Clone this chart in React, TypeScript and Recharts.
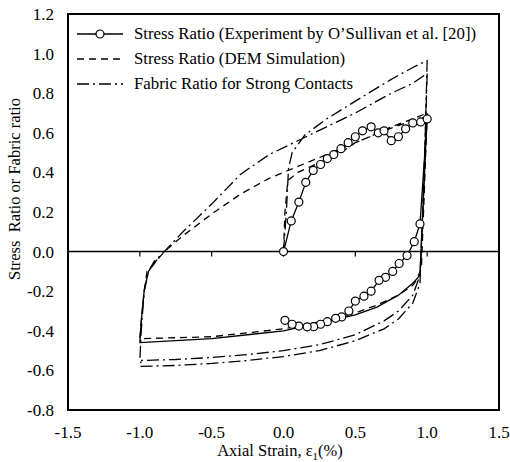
import {
  LineChart,
  Line,
  XAxis,
  YAxis,
  ReferenceLine,
  ReferenceArea,
  Legend,
} from "recharts";

const SERIF = "'Liberation Serif', 'Times New Roman', serif";

const xTicks = [-1.5, -1.0, -0.5, 0.0, 0.5, 1.0, 1.5];
const yTicks = [-0.8, -0.6, -0.4, -0.2, 0.0, 0.2, 0.4, 0.6, 0.8, 1.0, 1.2];

// experiment (O'Sullivan et al.), loading 0 -> 1 then unloading back to 0
const expStrain = [
  0, 0.054, 0.107, 0.155, 0.207, 0.258, 0.305, 0.35, 0.4, 0.45, 0.5, 0.55, 0.61,
  0.66, 0.7, 0.75, 0.8, 0.85, 0.9, 0.955, 1.0, 0.95, 0.91, 0.86, 0.805, 0.76,
  0.71, 0.665, 0.61, 0.56, 0.5, 0.455, 0.405, 0.363, 0.305, 0.258, 0.21, 0.165,
  0.107, 0.06, 0.01,
];
const expRatio = [
  0, 0.155, 0.25, 0.35, 0.41, 0.44, 0.47, 0.49, 0.52, 0.55, 0.58, 0.61, 0.63,
  0.6, 0.61, 0.56, 0.58, 0.62, 0.65, 0.655, 0.67, 0.14, 0.05, -0.02, -0.06,
  -0.1, -0.13, -0.145, -0.2, -0.225, -0.25, -0.3, -0.33, -0.337, -0.354,
  -0.367, -0.379, -0.38, -0.376, -0.367, -0.347,
];

// DEM stress ratio, first cycle
const demStrain = [
  0, 0.01, 0.03, 0.1, 0.25, 0.4, 0.5, 0.6, 0.75, 0.9, 1.0, 0.98, 0.96, 0.93,
  0.9, 0.8, 0.65, 0.5, 0.25, 0, -0.25, -0.5, -0.75, -1.0, -0.99, -0.97, -0.95,
  -0.9, -0.83, -0.7, -0.5, -0.3, -0.1, 0.1, 0.3, 0.5, 0.7, 0.85, 1.0,
];
const demRatio = [
  0, 0.2, 0.36, 0.4, 0.45, 0.5, 0.55, 0.58, 0.63, 0.67, 0.7, 0.3, -0.08, -0.14,
  -0.17, -0.22, -0.27, -0.31, -0.355, -0.39, -0.41, -0.43, -0.435, -0.44,
  -0.35, -0.2, -0.1, -0.06, 0.0, 0.08, 0.19, 0.29, 0.37, 0.43, 0.49, 0.55,
  0.61, 0.65, 0.68,
];

// DEM stress ratio, second unloading
const dem2Strain = [
  1.0, 0.97, 0.95, 0.9, 0.8, 0.65, 0.5, 0.25, 0, -0.25, -0.5, -0.75, -1.0,
  -0.99, -0.97, -0.94, -0.88,
];
const dem2Ratio = [
  0.7, 0.2, -0.12, -0.16, -0.22, -0.28, -0.32, -0.36, -0.4, -0.42, -0.44,
  -0.45, -0.46, -0.35, -0.2, -0.1, -0.04,
];

// fabric ratio for strong contacts
const fabStrain = [
  0, 0.02, 0.035, 0.06, 0.15, 0.3, 0.5, 0.75, 0.9, 1.0, 0.98, 0.95, 0.9, 0.8,
  0.7, 0.5, 0.25, 0, -0.25, -0.5, -0.75, -1.0, -0.99, -0.97, -0.94, -0.9,
  -0.83, -0.7, -0.5, -0.3, -0.1, 0.1, 0.3, 0.5, 0.75, 0.9, 1.0,
];
const fabRatio = [
  0, 0.2, 0.42, 0.5, 0.59, 0.67, 0.76, 0.87, 0.93, 0.965, 0.4, -0.12, -0.22,
  -0.3, -0.35, -0.42, -0.47, -0.5, -0.52, -0.535, -0.545, -0.55, -0.4, -0.2,
  -0.1, -0.05, 0.0, 0.1, 0.24, 0.39, 0.49, 0.56, 0.63, 0.7, 0.8, 0.85, 0.9,
];

const fab2Strain = [
  1.0, 0.97, 0.95, 0.9, 0.8, 0.7, 0.5, 0.25, 0, -0.25, -0.5, -0.75, -1.0, -0.99,
];
const fab2Ratio = [
  0.9, 0.2, -0.16, -0.26, -0.34, -0.39, -0.45, -0.5, -0.53, -0.55, -0.565,
  -0.575, -0.58, -0.55,
];

const legendItems = [
  { label: "Stress Ratio (Experiment by O\u2019Sullivan et al. [20])", dash: undefined, marker: true },
  { label: "Stress Ratio (DEM Simulation)", dash: "7 5", marker: false },
  { label: "Fabric Ratio for Strong Contacts", dash: "12 4 2 4", marker: false },
];

const toPoints = (xs: number[], ys: number[]) => xs.map((x, i) => ({ x, y: ys[i] }));

function LegendBox() {
  return (
    <div style={{ fontFamily: SERIF, fontSize: 16.8, color: "#000" }}>
      {legendItems.map((item) => (
        <div key={item.label} style={{ display: "flex", alignItems: "center", height: 25 }}>
          <svg width={46} height={12}>
            <line x1={0} y1={6} x2={46} y2={6} stroke="#000" strokeWidth={1.3} strokeDasharray={item.dash} />
            {item.marker && <circle cx={23} cy={6} r={4} fill="#fff" stroke="#000" strokeWidth={1.2} />}
          </svg>
          <span style={{ marginLeft: 11, whiteSpace: "nowrap" }}>{item.label}</span>
        </div>
      ))}
    </div>
  );
}

export default function App() {
  const tickStyle = { fontFamily: SERIF, fontSize: 17, fill: "#000" };
  return (
    <div style={{ position: "absolute", left: 0, top: 0, background: "#fff" }}>
      <LineChart width={510} height={462} margin={{ top: 14, right: 11, left: 0, bottom: 0 }}>
        <XAxis
          dataKey="x"
          type="number"
          domain={[-1.5, 1.5]}
          ticks={xTicks}
          tickFormatter={(v: number) => v.toFixed(1)}
          tick={tickStyle}
          tickLine={false}
          axisLine={false}
          tickSize={8}
          tickMargin={8}
          height={52}
          allowDataOverflow
          label={{
            content: () => (
              <text x={280} y={456} textAnchor="middle" fontFamily={SERIF} fontSize={16.5} fill="#000">
                Axial Strain, ε
                <tspan fontSize={11} dy={4}>1</tspan>
                <tspan dy={-4}>(%)</tspan>
              </text>
            ),
          }}
        />
        <YAxis
          type="number"
          domain={[-0.8, 1.2]}
          ticks={yTicks}
          tickFormatter={(v: number) => v.toFixed(1)}
          tick={tickStyle}
          tickLine={false}
          axisLine={false}
          tickSize={6}
          tickMargin={8}
          width={68}
          allowDataOverflow
          label={{
            content: () => (
              <text
                x={20}
                y={189}
                textAnchor="middle"
                fontFamily={SERIF}
                fontSize={16.5}
                fill="#000"
                transform="rotate(-90 20 189)"
                style={{ whiteSpace: "pre" }}
              >
                {"Stress  Ratio or Fabric ratio"}
              </text>
            ),
          }}
        />
        <ReferenceArea x1={-1.5} x2={1.5} y1={-0.8} y2={1.2} fill="none" stroke="#000" strokeWidth={2} />
        <ReferenceLine y={0} stroke="#000" strokeWidth={1.5} />
        {xTicks.slice(1, -1).map((t) => (
          <ReferenceLine
            key={`zt-${t}`}
            segment={[
              { x: t, y: 0 },
              { x: t, y: -0.025 },
            ]}
            stroke="#000"
            strokeWidth={1.2}
          />
        ))}
        <Line
          data={toPoints(fabStrain, fabRatio)}
          dataKey="y"
          stroke="#000"
          strokeWidth={1.3}
          strokeDasharray="12 4 2 4"
          dot={false}
          activeDot={false}
          isAnimationActive={false}
          legendType="none"
        />
        <Line
          data={toPoints(fab2Strain, fab2Ratio)}
          dataKey="y"
          stroke="#000"
          strokeWidth={1.3}
          strokeDasharray="12 4 2 4"
          dot={false}
          activeDot={false}
          isAnimationActive={false}
          legendType="none"
        />
        <Line
          data={toPoints(demStrain, demRatio)}
          dataKey="y"
          stroke="#000"
          strokeWidth={1.3}
          strokeDasharray="7 5"
          dot={false}
          activeDot={false}
          isAnimationActive={false}
          legendType="none"
        />
        <Line
          data={toPoints(dem2Strain, dem2Ratio)}
          dataKey="y"
          stroke="#000"
          strokeWidth={1.3}
          dot={false}
          activeDot={false}
          isAnimationActive={false}
          legendType="none"
        />
        <Line
          data={toPoints(expStrain, expRatio)}
          dataKey="y"
          stroke="#000"
          strokeWidth={1.3}
          dot={{ r: 4, fill: "#fff", stroke: "#000", strokeWidth: 1.2 }}
          activeDot={false}
          isAnimationActive={false}
          legendType="none"
        />
        <Legend
          layout="vertical"
          align="center"
          verticalAlign="middle"
          content={() => <LegendBox />}
          wrapperStyle={{ top: 21, left: 77, width: "auto", height: "auto" }}
        />
      </LineChart>
    </div>
  );
}
